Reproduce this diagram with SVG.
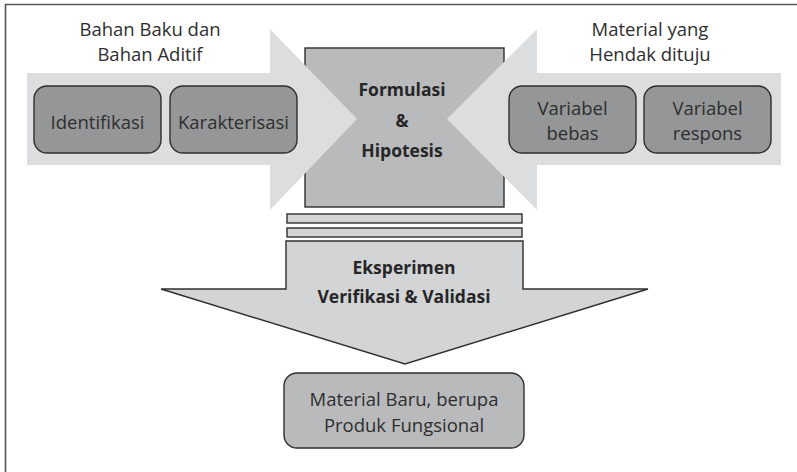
<svg xmlns="http://www.w3.org/2000/svg" width="797" height="472" viewBox="0 0 797 472">
  <style>
    .t { font-family: "Open Sans", Lato, "Liberation Sans", sans-serif; fill: #2e2e2e; text-anchor: middle; }
    .lbl { font-size: 18.5px; }
    .bold { font-size: 17.5px; font-weight: bold; fill: #262626; }
    .arrow-light { fill: #dcdddf; }
    .box-dark { fill: #959698; stroke: #2f2f2f; stroke-width: 1.4; }
    .box-mid { fill: #b9babc; stroke: #2f2f2f; stroke-width: 1.4; }
    .bar { fill: #d3d4d6; stroke: #2f2f2f; stroke-width: 1.4; }
  </style>

  <!-- frame (top and left rules) -->
  <path d="M5.5,472 V4.5 H797" fill="none" stroke="#555" stroke-width="1.6"/>

  <!-- central block -->
  <g id="formulasi">
    <rect x="305" y="48" width="199" height="159" class="box-mid"/>
  </g>

  <g id="connectors">
    <!-- inflow arrow from the left -->
    <polygon class="arrow-light" points="27,73 270,73 270,29 357,119 270,210 270,165 27,165"/>
    <!-- inflow arrow from the right -->
    <polygon class="arrow-light" points="781,73 537,73 537,29 447,119 537,210 537,165 781,165"/>
    <!-- stacked bars under the central block -->
    <rect x="287" y="214" width="235" height="9" class="bar"/>
    <rect x="287" y="228" width="235" height="9" class="bar"/>
  </g>

  <g id="formulasi-label">
    <text class="t bold" x="402" y="96">Formulasi</text>
    <text class="t bold" x="402" y="127">&amp;</text>
    <text class="t bold" x="402" y="157">Hipotesis</text>
  </g>

  <g id="label-bahan">
    <text class="t lbl" x="150" y="36">Bahan Baku dan</text>
    <text class="t lbl" x="150" y="61">Bahan Aditif</text>
  </g>

  <g id="label-material">
    <text class="t lbl" x="650" y="36">Material yang</text>
    <text class="t lbl" x="650" y="61">Hendak dituju</text>
  </g>

  <g id="identifikasi">
    <rect x="34" y="86" width="127" height="67" rx="13" class="box-dark"/>
    <text class="t lbl" x="97.5" y="129">Identifikasi</text>
  </g>

  <g id="karakterisasi">
    <rect x="170" y="86" width="127" height="67" rx="13" class="box-dark"/>
    <text class="t lbl" x="233.5" y="129">Karakterisasi</text>
  </g>

  <g id="variabel-bebas">
    <rect x="509" y="86" width="127" height="67" rx="13" class="box-dark"/>
    <text class="t lbl" x="572.5" y="115">Variabel</text>
    <text class="t lbl" x="572.5" y="140">bebas</text>
  </g>

  <g id="variabel-respons">
    <rect x="644" y="86" width="127" height="67" rx="13" class="box-dark"/>
    <text class="t lbl" x="707.5" y="115">Variabel</text>
    <text class="t lbl" x="707.5" y="140">respons</text>
  </g>

  <g id="eksperimen">
    <path d="M286,241 H523 V289 H648 L405,364 L161,289 H286 Z" class="bar"/>
    <text class="t bold" x="404" y="274">Eksperimen</text>
    <text class="t bold" x="404" y="303">Verifikasi &amp; Validasi</text>
  </g>

  <g id="material-baru">
    <rect x="284" y="373" width="240" height="75" rx="13" class="box-mid"/>
    <text class="t lbl" x="404" y="406">Material Baru, berupa</text>
    <text class="t lbl" x="404" y="432">Produk Fungsional</text>
  </g>
</svg>
